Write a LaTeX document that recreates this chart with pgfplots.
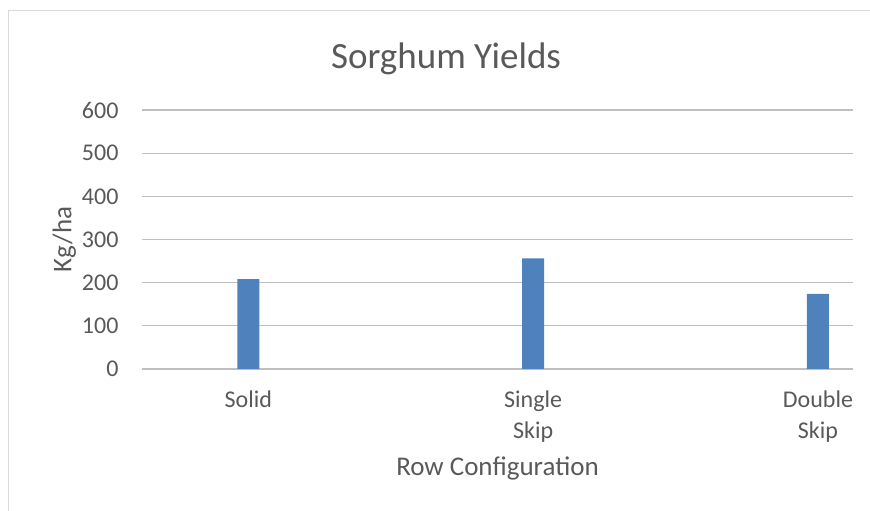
\documentclass[border=0pt]{standalone}
\usepackage{pgfplots}
\pgfplotsset{compat=1.18}
\usepackage{fontspec}
\setmainfont{Carlito}
\definecolor{txt}{HTML}{595959}
\definecolor{grid}{HTML}{D9D9D9}
\definecolor{bar}{HTML}{4F81BD}
\begin{document}
\begin{tikzpicture}[x=1pt,y=1pt]
\useasboundingbox (0,0) rectangle (870,511);
\draw[grid, line width=1.5pt] (8.5,-10) -- (8.5,500.5) -- (890,500.5);
\begin{axis}[
  at={(142pt,142pt)}, anchor=south west,
  scale only axis, width=711pt, height=259pt,
  xmin=-0.373, xmax=2.123, ymin=0, ymax=600,
  xtick=data, xticklabels={Solid, {Single\\Skip}, {Double\\Skip}},
  ytick={0,100,...,600},
  ymajorgrids, xmajorgrids=false, grid style={grid, line width=1.3pt},
  axis line style={draw=none},
  tick style={draw=none},
  major tick length=0pt,
  tick label style={font=\fontsize{24}{31}\selectfont, text=txt},
  xticklabel style={align=center, yshift=-18pt},
  yticklabel style={xshift=-20pt},
  /pgf/number format/assume math mode=true,
  title={Sorghum Yields},
  title style={font=\fontsize{37}{42}\selectfont, text=txt, at={(rel axis cs:0.4276,1.0)}, anchor=base, yshift=36pt},
  xlabel={Row Configuration},
  xlabel style={font=\fontsize{27}{32}\selectfont, text=txt, yshift=-8pt},
  ylabel={Kg/ha},
  ylabel style={font=\fontsize{27}{32}\selectfont, text=txt, yshift=-1pt},
  ybar, bar width=22pt,
  clip=false,
]
\addplot[fill=bar, draw=none] coordinates {(0,208) (1,256) (2,174)};
\end{axis}
\end{tikzpicture}
\end{document}
